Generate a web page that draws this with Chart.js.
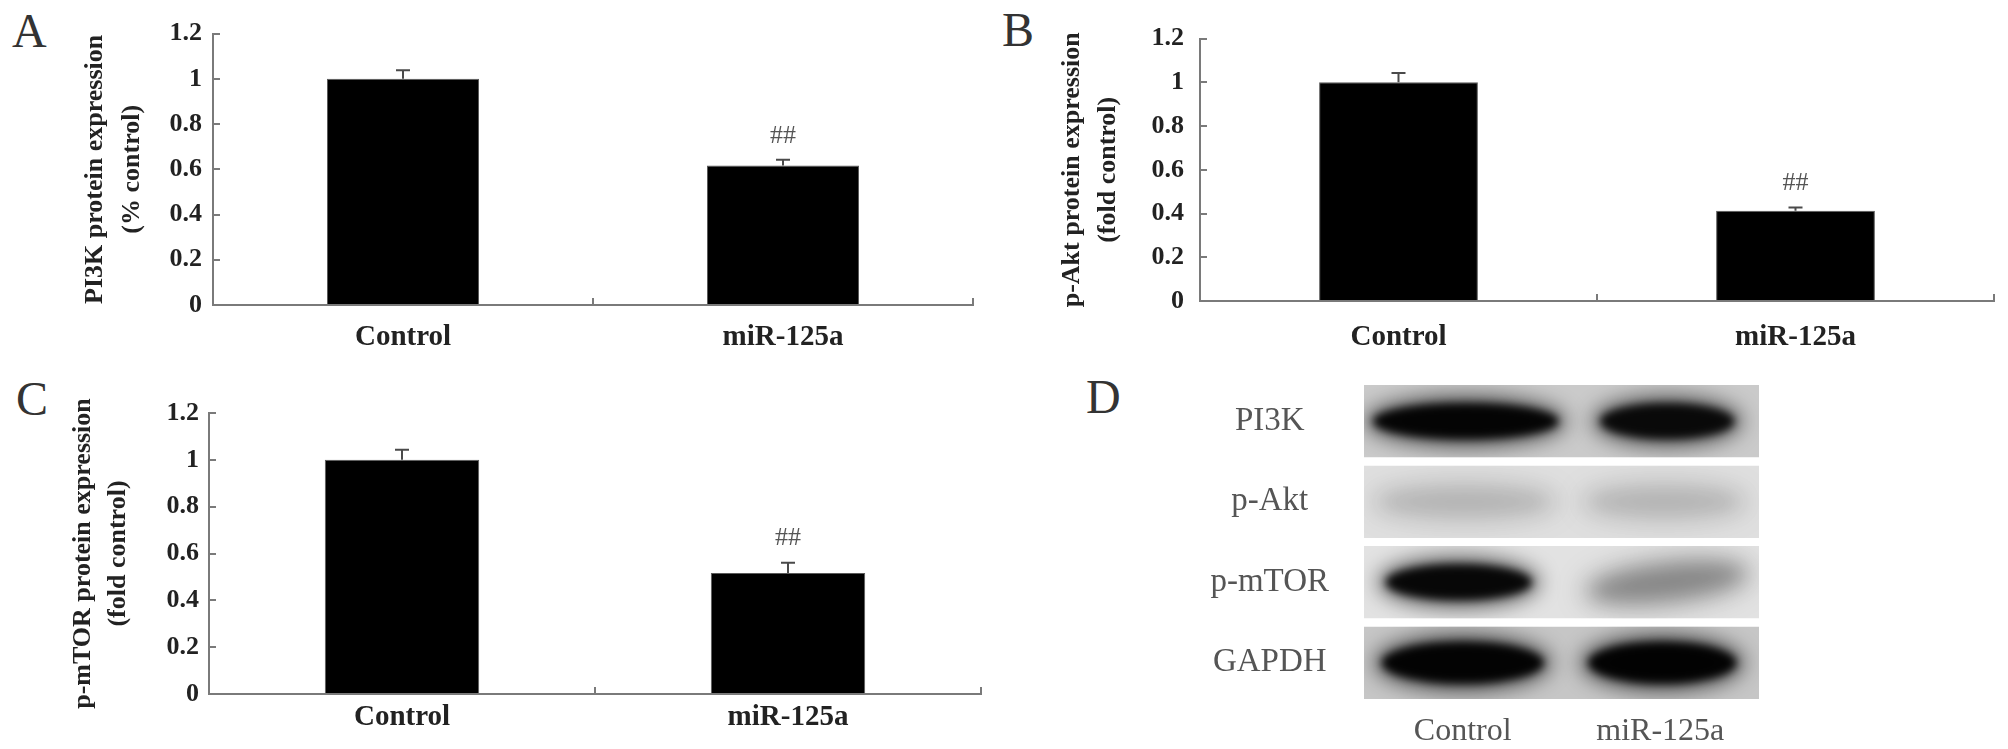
<!DOCTYPE html>
<html>
<head>
<meta charset="utf-8">
<script src="https://cdn.jsdelivr.net/npm/chart.js@4.4.0/dist/chart.umd.min.js"></script>
<style>
  body { margin: 0; background: #fff; width: 2008px; height: 749px; position: relative; overflow: hidden; font-family: "Liberation Serif", serif; }
  .box { position: absolute; }
  .letter { position: absolute; font-size: 48px; line-height: 48px; color: #333; }
</style>
</head>
<body>
<div class="letter" style="left:12px;top:7px">A</div>
<div class="letter" style="left:1002px;top:6px">B</div>
<div class="letter" style="left:16px;top:375px">C</div>
<div class="letter" style="left:1086px;top:373px">D</div>

<div class="box" style="left:0;top:0;width:990px;height:370px"><canvas id="chartA"></canvas></div>
<div class="box" style="left:990px;top:0;width:1018px;height:370px"><canvas id="chartB"></canvas></div>
<div class="box" style="left:0;top:375px;width:990px;height:374px"><canvas id="chartC"></canvas></div>
<div class="box" style="left:1200px;top:370px;width:808px;height:379px"><canvas id="chartD"></canvas></div>

<script>
// data
const groups = ["Control", "miR-125a"];
const sigMarks = ["", "##"];

const pi3kMean = [1.0, 0.617];
const pi3kErr = [0.038, 0.025];
const aktMean = [1.0, 0.413];
const aktErr = [0.043, 0.015];
const mtorMean = [1.0, 0.517];
const mtorErr = [0.043, 0.044];

const blotRows = ["PI3K", "p-Akt", "p-mTOR", "GAPDH"];
// band darkness per row, [Control, miR-125a]
const blotIntensity = [[0.95, 0.9], [0.13, 0.13], [0.93, 0.28], [0.96, 0.97]];

const serif = "'Liberation Serif', 'Times New Roman', serif";
const axisColor = "#7a7a7a";

const errorBarPlugin = {
  id: "errBars",
  afterDatasetsDraw(chart, args, opts) {
    const ctx = chart.ctx;
    const y = chart.scales.y;
    const vals = chart.data.datasets[0].data;
    ctx.save();
    chart.getDatasetMeta(0).data.forEach((bar, i) => {
      const base = y.getPixelForValue(vals[i]);
      const top = y.getPixelForValue(vals[i] + opts.errors[i]);
      ctx.strokeStyle = "#4a4a4a";
      ctx.lineWidth = 2;
      ctx.beginPath();
      ctx.moveTo(bar.x, base);
      ctx.lineTo(bar.x, top);
      ctx.moveTo(bar.x - 7, top);
      ctx.lineTo(bar.x + 7, top);
      ctx.stroke();
      if (opts.marks[i]) {
        ctx.fillStyle = "#555";
        ctx.font = "26px " + serif;
        ctx.textAlign = "center";
        ctx.textBaseline = "middle";
        ctx.fillText(opts.marks[i], bar.x, top - 24);
      }
    });
    ctx.restore();
  }
};

function barPanel(id, mean, err, title, geo) {
  new Chart(document.getElementById(id), {
    type: "bar",
    data: {
      labels: groups,
      datasets: [{
        data: mean,
        backgroundColor: "#000",
        borderColor: "#5a5a5a",
        borderWidth: 1,
        barPercentage: 0.4,
        categoryPercentage: 1
      }]
    },
    plugins: [errorBarPlugin],
    options: {
      responsive: true,
      maintainAspectRatio: false,
      animation: false,
      layout: { padding: { top: geo.top, right: geo.right, left: 0, bottom: 0 } },
      plugins: {
        legend: { display: false },
        tooltip: { enabled: false },
        errBars: { errors: err, marks: sigMarks }
      },
      scales: {
        x: {
          grid: { drawOnChartArea: false, tickLength: -7, color: axisColor, lineWidth: 2 },
          border: { color: axisColor, width: 2 },
          ticks: { font: { family: serif, size: 29, weight: "bold" }, color: "#222", padding: geo.xPad },
          afterFit: s => { s.height = geo.xH; }
        },
        y: {
          min: 0,
          max: 1.2,
          grid: { drawOnChartArea: false, tickLength: -7, color: axisColor, lineWidth: 2 },
          border: { color: axisColor, width: 2 },
          ticks: {
            stepSize: 0.2,
            font: { family: serif, size: 26, weight: "bold" },
            color: "#222",
            padding: geo.yPad,
            callback: v => String(+v.toFixed(1))
          },
          title: {
            display: true,
            text: title,
            color: "#222",
            font: { family: serif, size: 26, weight: "bold", lineHeight: geo.titleLH },
            padding: { top: geo.titlePad, bottom: 0 }
          },
          afterFit: s => { s.width = geo.yW; }
        }
      }
    }
  });
}

barPanel("chartA", pi3kMean, pi3kErr, ["PI3K protein expression", "(% control)"],
  { top: 22, right: 17, yW: 213, xH: 65, xPad: 22.6, yPad: 18, titlePad: 76.5, titleLH: 1.42 });
barPanel("chartB", aktMean, aktErr, ["p-Akt protein expression", "(fold control)"],
  { top: 22, right: 14, yW: 210, xH: 69, xPad: 26.6, yPad: 23, titlePad: 64, titleLH: 1.385 });
barPanel("chartC", mtorMean, mtorErr, ["p-mTOR protein expression", "(fold control)"],
  { top: 38, right: 9, yW: 209, xH: 55, xPad: 13.6, yPad: 17, titlePad: 65.5, titleLH: 1.346 });

// western blot strips, lanes on the x scale, rows on the y scale
const stripShade = ["#cacaca", "#dfdfdf", "#e2e2e2", "#c6c6c6"];
const bandWidth = [[0.94, 0.68], [0.9, 0.8], [0.74, 0.8], [0.82, 0.75]];
const bandHeight = [36, 30, 36, 42];
const bandShift = [[3, 7], [2, 4], [-4, 7], [0, 2]];
const bandTilt = [0, 0, 0, 0];

const blotPlugin = {
  id: "blot",
  beforeDatasetsDraw(chart) {
    const { ctx, chartArea: a, scales: { x, y } } = chart;
    const rowH = Math.abs(y.getPixelForValue(1) - y.getPixelForValue(0));
    const laneW = Math.abs(x.getPixelForValue(1) - x.getPixelForValue(0));
    blotRows.forEach((row, r) => {
      const cy = y.getPixelForValue(r);
      const top = cy - rowH / 2 + 4;
      const h = rowH - 8;
      ctx.save();
      ctx.beginPath();
      ctx.rect(a.left, top, a.right - a.left, h);
      ctx.clip();
      ctx.fillStyle = stripShade[r];
      ctx.fillRect(a.left, top, a.right - a.left, h);
      groups.forEach((g, j) => {
        const cx = x.getPixelForValue(j) + bandShift[r][j];
        const k = blotIntensity[r][j];
        const faint = k < 0.5;
        const rx = laneW * bandWidth[r][j] / 2;
        const ry = bandHeight[r] / 2;
        const tilt = j === 1 && r === 2 ? -0.12 : bandTilt[r];
        ctx.filter = faint ? "blur(14px)" : "blur(10px)";
        ctx.fillStyle = "rgba(0,0,0," + (k * 0.6) + ")";
        ctx.beginPath();
        ctx.ellipse(cx, cy, rx + 8, ry + 8, tilt, 0, Math.PI * 2);
        ctx.fill();
        ctx.filter = faint ? "blur(10px)" : "blur(4px)";
        ctx.fillStyle = "rgba(0,0,0," + k + ")";
        ctx.beginPath();
        ctx.ellipse(cx, cy, rx, ry, tilt, 0, Math.PI * 2);
        ctx.fill();
      });
      ctx.restore();
    });
  }
};

new Chart(document.getElementById("chartD"), {
  type: "bar",
  data: { labels: groups, datasets: [] },
  plugins: [blotPlugin],
  options: {
    responsive: true,
    maintainAspectRatio: false,
    animation: false,
    layout: { padding: { top: 11, right: 249, left: 0, bottom: 0 } },
    plugins: { legend: { display: false }, tooltip: { enabled: false } },
    scales: {
      x: {
        type: "category",
        offset: true,
        grid: { display: false },
        border: { display: false },
        ticks: { font: { family: serif, size: 32 }, color: "#555", padding: 1 },
        afterFit: s => { s.height = 46; s.paddingLeft = 0; s.paddingRight = 0; }
      },
      y: {
        type: "category",
        labels: blotRows,
        offset: true,
        grid: { display: false },
        border: { display: false },
        ticks: { font: { family: serif, size: 33 }, color: "#555", padding: 27, crossAlign: "center" },
        afterFit: s => { s.width = 164; s.paddingTop = 0; s.paddingBottom = 0; }
      }
    }
  }
});
</script>
</body>
</html>
